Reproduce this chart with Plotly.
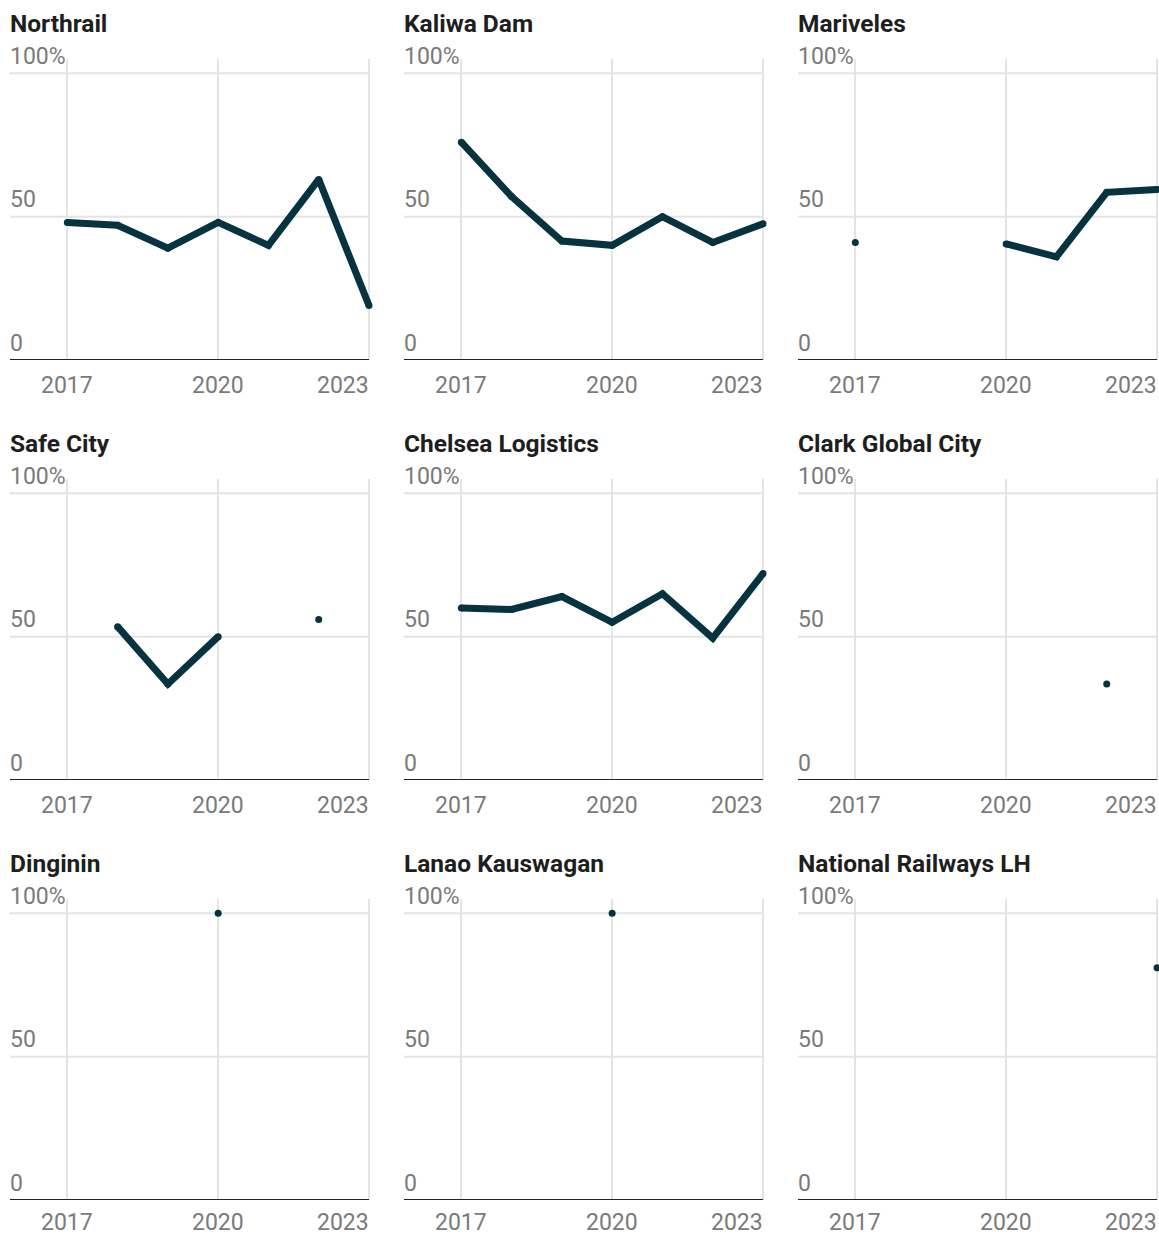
import plotly.graph_objects as go

years = [2017, 2018, 2019, 2020, 2021, 2022, 2023]

titles = ["Northrail", "Kaliwa Dam", "Mariveles",
          "Safe City", "Chelsea Logistics", "Clark Global City",
          "Dinginin", "Lanao Kauswagan", "National Railways LH"]

northrail = [48, 47, 39, 48, 40, 63, 19]
kaliwa_dam = [76, 57, 41.5, 40, 50, 41, 47.5]
mariveles = [41, None, None, 40.5, 36, 58.5, 59.5]
safe_city = [None, 53.5, 33.5, 50, None, 56, None]
chelsea_logistics = [60, 59.5, 64, 55, 65, 49.5, 72]
clark_global_city = [None, None, None, None, None, 33.5, None]
dinginin = [None, None, None, 100, None, None, None]
lanao_kauswagan = [None, None, None, 100, None, None, None]
national_railways_lh = [None, None, None, None, None, None, 81]

series = [northrail, kaliwa_dam, mariveles, safe_city, chelsea_logistics,
          clark_global_city, dinginin, lanao_kauswagan, national_railways_lh]

y_tick_vals = [0, 50, 100]
y_tick_text = ["0", "50", "100%"]
x_tick_vals = [2017, 2020, 2023]
x_tick_text = ["2017", "2020", "2023"]

LINE = "#06333f"
GRID = "#e4e4e4"
FONT = "Roboto"

W, H = 1159, 1237
ML, MR, MT, MB = 10, 0, 59, 37
PW, PH = W - ML - MR, H - MT - MB
X_MIN, X_MAX = 2015.86, 2023.0
PPY = 359 / (X_MAX - X_MIN)          # pixels per year
col_left = [0, 394, 788]             # paper px of each panel's left edge
col_ext = [4, 4, 2]                  # extra px beyond 2023 so line caps aren't clipped
row_px = [(0, 301), (420, 721), (840, 1141)]  # from top of paper

fig = go.Figure()
layout = dict(
    width=W, height=H,
    margin=dict(l=ML, r=MR, t=MT, b=MB),
    paper_bgcolor="white", plot_bgcolor="white",
    showlegend=False,
    font=dict(family=FONT, color="#777777", size=23),
)
annotations = []
shapes = []

for i, (title, vals) in enumerate(zip(titles, series)):
    r, c = divmod(i, 3)
    n = "" if i == 0 else str(i + 1)
    xa, ya = "x" + n, "y" + n
    x0 = col_left[c]
    x1 = x0 + 359 + col_ext[c]
    t0, t1 = row_px[r]
    layout["xaxis" + n] = dict(
        domain=[x0 / PW, min(x1 / PW, 1)],
        range=[X_MIN, X_MAX + col_ext[c] / PPY], anchor=ya,
        tickvals=x_tick_vals, showticklabels=False,
        showgrid=True, gridcolor=GRID, gridwidth=2,
        showline=False, zeroline=False, ticks="", fixedrange=True,
    )
    layout["yaxis" + n] = dict(
        domain=[(PH - t1) / PH, (PH - t0) / PH], range=[0, 105], anchor=xa,
        showticklabels=False, showgrid=False,
        zeroline=False, showline=False, ticks="", fixedrange=True,
    )
    for gv in [50, 100]:
        shapes.append(dict(
            type="line", xref=xa, yref=ya, x0=X_MIN, x1=X_MAX, y0=gv, y1=gv,
            line=dict(color=GRID, width=2), layer="below",
        ))
    shapes.append(dict(
        type="line", xref=xa, yref=ya, x0=X_MIN, x1=X_MAX, y0=0, y1=0,
        line=dict(color="#222222", width=2), layer="above",
    ))
    fig.add_trace(go.Scatter(
        x=years, y=vals, xaxis=xa, yaxis=ya,
        mode="lines+markers", connectgaps=False,
        line=dict(color=LINE, width=7),
        marker=dict(color=LINE, size=7),
        cliponaxis=False, hoverinfo="skip",
    ))
    annotations.append(dict(
        text=f"<b>{title}</b>", xref=xa + " domain", yref=ya + " domain",
        x=0, y=1, xanchor="left", yanchor="middle", yshift=36, xshift=-2,
        showarrow=False, font=dict(family=FONT, size=24.5, color="#1e1e1e"),
    ))
    for v, t in zip(y_tick_vals, y_tick_text):
        annotations.append(dict(
            text=t, xref=xa + " domain", yref=ya, x=0, y=v,
            xanchor="left", yanchor="middle", yshift=17, xshift=-2,
            showarrow=False, font=dict(family=FONT, size=23, color="#7a7a7a"),
        ))
    for v, t in zip(x_tick_vals, x_tick_text):
        annotations.append(dict(
            text=t, xref=xa, yref=ya + " domain", x=v, y=0,
            xanchor="right" if v == 2023 else "center", yanchor="middle",
            yshift=-22 if r == 2 else -25, showarrow=False,
            borderpad=0, borderwidth=0,
            font=dict(family=FONT, size=23, color="#7a7a7a"),
        ))

layout["annotations"] = annotations
layout["shapes"] = shapes
fig.update_layout(**layout)
fig.write_html("out.html", config={"displayModeBar": False},
               post_script="document.body.style.margin='0';document.body.style.overflow='hidden';")
